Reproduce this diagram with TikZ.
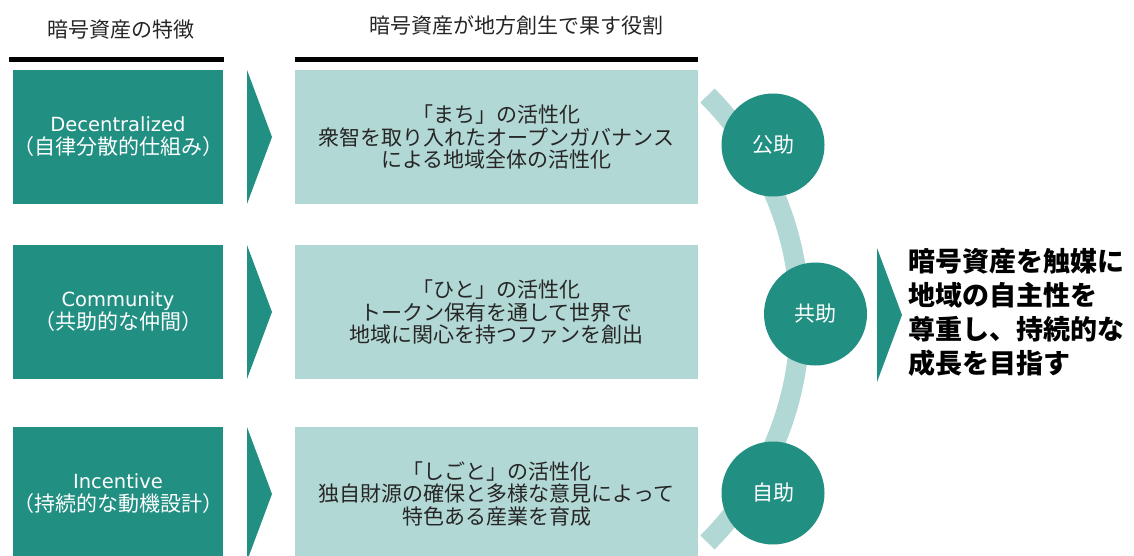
\documentclass[tikz,border=0pt]{standalone}
\usepackage{fontspec}
\setmainfont{Noto Sans CJK JP}
\newfontfamily\latinfont{DejaVu Sans}
\definecolor{tealdark}{HTML}{218F82}
\definecolor{teallight}{HTML}{B2D8D5}
\definecolor{txtgray}{HTML}{262626}
\tikzset{
  featbox/.style={fill=tealdark, text=white, minimum width=210pt, minimum height=134pt, inner sep=0pt, align=center, font=\fontsize{21}{23}\selectfont},
  rolebox/.style={fill=teallight, text=txtgray, minimum width=403pt, minimum height=134pt, inner sep=0pt, align=center, font=\fontsize{21}{22.6}\selectfont},
  helpcircle/.style={circle, fill=tealdark, text=white, minimum size=103pt, inner sep=0pt, font=\fontsize{21}{22}\selectfont},
  headtext/.style={text=txtgray, inner sep=0pt, font=\fontsize{21}{24}\selectfont},
  headrule/.style={line width=4.5pt, black},
  chevron/.style={fill=tealdark},
  band/.style={draw=teallight, line width=20pt}
}
\newcommand{\lat}[1]{{\latinfont\fontsize{19.5}{23}\selectfont #1}}
\begin{document}
\begin{tikzpicture}[x=1pt,y=-1pt]
\useasboundingbox (0,0) rectangle (1134,556);
\clip (0,0) rectangle (1134,556);
% headers
\node[headtext] (h1) at (121,30) {暗号資産の特徴};
\node[headtext] (h2) at (516,26) {暗号資産が地方創生で果す役割};
\coordinate (r1a) at (9,59.5); \coordinate (r1b) at (224,59.5);
\coordinate (r2a) at (295,59.5); \coordinate (r2b) at (698,59.5);
\draw[headrule] (r1a) -- (r1b);
\draw[headrule] (r2a) -- (r2b);
% feature boxes
\node[featbox] (f1) at (118,137) {\lat{Decentralized}\\（自律分散的仕組み）};
\node[featbox] (f2) at (118,312) {\lat{Community}\\（共助的な仲間）};
\node[featbox] (f3) at (118,494) {\lat{Incentive}\\（持続的な動機設計）};
% chevrons
\foreach \cy in {137,312,494}{
  \fill[chevron] (247,\cy-67) -- (272,\cy) -- (247,\cy+67) -- cycle;
}
% role boxes
\node[rolebox] (g1) at (496.5,137) {「まち」の活性化\\衆智を取り入れたオープンガバナンス\\による地域全体の活性化};
\node[rolebox] (g2) at (496.5,312) {「ひと」の活性化\\トークン保有を通して世界で\\地域に関心を持つファンを創出};
\node[rolebox] (g3) at (496.5,494) {「しごと」の活性化\\独自財源の確保と多様な意見によって\\特色ある産業を育成};
% arc band
\coordinate (arcc) at (484,319);
\draw[band] (arcc) ++(-45:316) arc[start angle=-45, end angle=45, radius=316];
% circles
\node[helpcircle] (c1) at (773,145) {公助};
\node[helpcircle] (c2) at (815.5,314) {共助};
\node[helpcircle] (c3) at (773,493) {自助};
% big chevron
\fill[chevron] (877,248) -- (902,315) -- (877,382) -- cycle;
% conclusion
\node[anchor=west, inner sep=0pt, align=left, text=black, font=\fontsize{27}{34}\selectfont\bfseries] (goal) at (908,312.5) {暗号資産を触媒に\\地域の自主性を\\尊重し、持続的な\\成長を目指す};
\end{tikzpicture}
\end{document}
